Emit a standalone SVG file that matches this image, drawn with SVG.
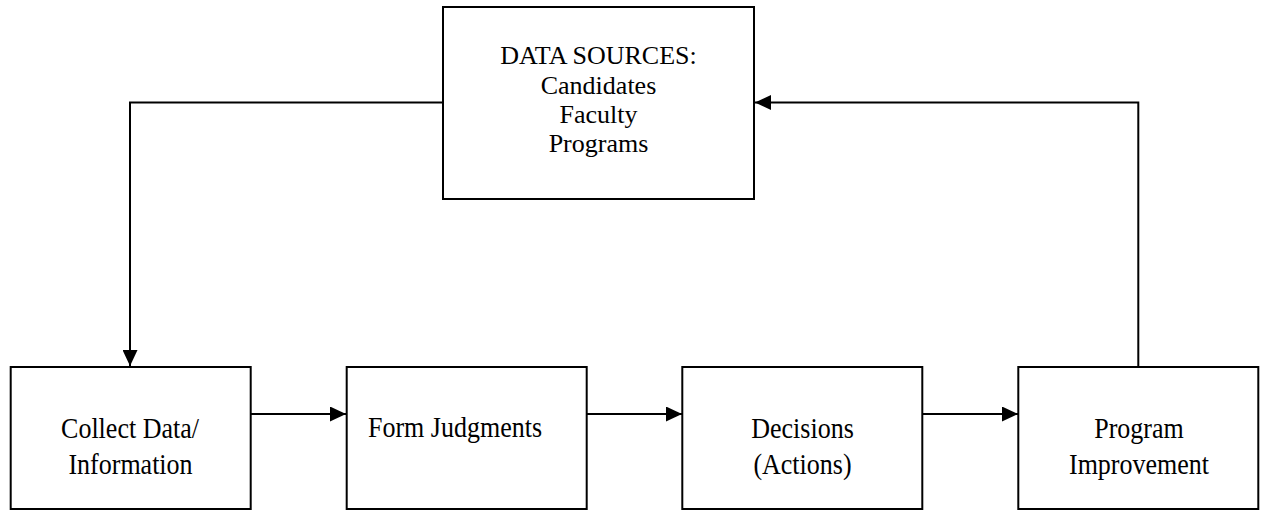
<svg xmlns="http://www.w3.org/2000/svg" width="1261" height="510" viewBox="0 0 1261 510">
<style>
  .box { fill: #ffffff; stroke: #000000; stroke-width: 2; }
  .txt { font-family: "Liberation Serif", "Times New Roman", serif; font-size: 26px; fill: #000000; }
  .c { text-anchor: middle; }
  .conn { fill: none; stroke: #000000; stroke-width: 2; }
</style>
<defs>
  <marker id="arrow" markerUnits="userSpaceOnUse" markerWidth="16" markerHeight="15" refX="16" refY="7.5" orient="auto">
    <path d="M0,0 L16,7.5 L0,15 Z" fill="#000000"/>
  </marker>
</defs>
<rect width="1261" height="510" fill="#ffffff"/>
<g id="connectors">
  <path class="conn" d="M443,102.5 H130 V366" marker-end="url(#arrow)"/>
  <path class="conn" d="M1138.3,367 V102.5 H755" marker-end="url(#arrow)"/>
  <path class="conn" d="M250.7,414 H346" marker-end="url(#arrow)"/>
  <path class="conn" d="M586.7,414 H682" marker-end="url(#arrow)"/>
  <path class="conn" d="M922.3,414 H1018" marker-end="url(#arrow)"/>
</g>
<g id="data-sources">
  <rect class="box" x="443" y="7" width="311" height="192"/>
  <text class="txt c" x="598.5" y="64">DATA SOURCES:</text>
  <text class="txt c" x="598.5" y="94">Candidates</text>
  <text class="txt c" x="598.5" y="123">Faculty</text>
  <text class="txt c" x="598.5" y="152">Programs</text>
</g>
<g id="collect-data">
  <rect class="box" x="10.7" y="367" width="240" height="142"/>
  <text class="txt c" transform="translate(130,438) scale(1,1.1)">Collect Data/</text>
  <text class="txt c" transform="translate(130.5,474) scale(1,1.1)">Information</text>
</g>
<g id="form-judgments">
  <rect class="box" x="346.7" y="367" width="240" height="142"/>
  <text class="txt" transform="translate(368,437) scale(1,1.1)">Form Judgments</text>
</g>
<g id="decisions">
  <rect class="box" x="682.3" y="367" width="240" height="142"/>
  <text class="txt c" transform="translate(802.5,438) scale(1,1.1)">Decisions</text>
  <text class="txt c" transform="translate(802.5,474) scale(1,1.1)">(Actions)</text>
</g>
<g id="program-improvement">
  <rect class="box" x="1018.3" y="367" width="240" height="142"/>
  <text class="txt c" transform="translate(1139,438) scale(1,1.1)">Program</text>
  <text class="txt c" transform="translate(1139,474) scale(1,1.1)">Improvement</text>
</g>
</svg>
